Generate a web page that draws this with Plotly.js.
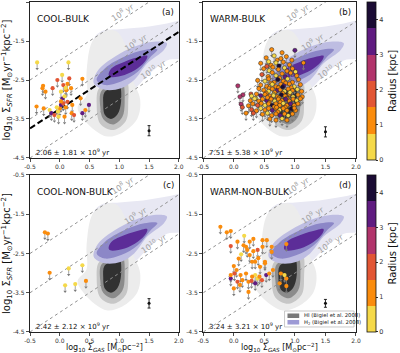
<!DOCTYPE html>
<html><head><meta charset="utf-8">
<script src="https://cdn.plot.ly/plotly-3.0.1.min.js"></script>
<style>html,body{margin:0;padding:0;background:#fff}#plot{width:400px;height:353px}</style>
</head><body><div id="plot"></div>
<script>
// ---------------- data ----------------
const panelNames = ['COOL-BULK', 'WARM-BULK', 'COOL-NON-BULK', 'WARM-NON-BULK'];
const panelTags = ['(a)', '(b)', '(c)', '(d)'];
const depletionSummary = ['2.06 ± 1.81 × 10<sup>9</sup> yr', '7.51 ± 5.38 × 10<sup>9</sup> yr',
                          '2.42 ± 2.12 × 10<sup>9</sup> yr', '3.24 ± 3.21 × 10<sup>9</sup> yr'];
const depletionTimes = [1e8, 1e9, 1e10];
const depletionLabels = ['10<sup>8</sup> yr', '10<sup>9</sup> yr', '10<sup>10</sup> yr'];
const depletionLabelX = [1.05, 1.28, 1.58];
const gasRange = [-0.5, 2.0];
const sfrRange = [-4.5, -0.5];
const xTicks = [-0.5, 0.0, 0.5, 1.0, 1.5, 2.0];
const yTicks = [-0.5, -1.5, -2.5, -3.5, -4.5];
const radiusTicks = [0, 1, 2, 3, 4];
const fitSlope = 0.99, fitIntercept = -3.245;   // panel (a) dashed fit
const repErrX = [1.5, 1.5, 1.5, 1.5];
const repErrY = [-3.8, -3.83, -3.77, -3.77];
const repErrSize = [0.13, 0.13, 0.12, 0.1];
const xTitle = 'log<sub>10</sub> Σ<sub><i>GAS</i></sub> [M<sub>⊙</sub>pc<sup>−2</sup>]';
const yTitle = 'log<sub>10</sub> Σ<sub><i>SFR</i></sub> [M<sub>⊙</sub>yr<sup>−1</sup>kpc<sup>−2</sup>]';

// Bigiel et al. 2008 density contours (outer -> inner)
const hi0X = [0.55,0.75,0.95,1.1,1.2,1.35,1.3,1.05,0.8,0.6,0.4,0.3,0.45,0.45];
const hi0Y = [-1.5,-1.25,-1.25,-1.6,-2.4,-3.0,-3.5,-3.85,-3.95,-3.8,-3.5,-3.2,-2.9,-2.3];
const hi1X = [0.66,0.9,1.12,1.15,1.11,0.9,0.68,0.62];
const hi1Y = [-2.72,-2.6,-2.52,-3.09,-3.55,-3.78,-3.62,-3.1];
const hi2X = [0.7,0.9,1.05,1.09,1.05,0.9,0.73,0.68];
const hi2Y = [-2.78,-2.64,-2.56,-3.09,-3.45,-3.64,-3.5,-3.18];
const hi3X = [0.75,0.9,1.0,1.03,0.97,0.86,0.76,0.73];
const hi3Y = [-2.82,-2.68,-2.6,-3.05,-3.38,-3.5,-3.4,-3.1];
const h20X = [0.57,0.7,1.0,1.4,1.8,2.1,2.1,1.8,1.5,1.2,0.9,0.6,0.5];
const h20Y = [-1.45,-1.25,-1.2,-1.15,-1.05,-1.0,-1.9,-2.0,-2.35,-2.8,-3.0,-2.8,-2.2];
const h21X = [0.57,0.65,0.93,1.25,1.58,1.8,1.75,1.47,1.25,1.03,0.76];
const h21Y = [-2.58,-2.24,-1.9,-1.65,-1.52,-1.56,-1.73,-2.07,-2.5,-2.71,-2.75];
const h22X = [0.62,0.76,1.09,1.42,1.64,1.53,1.31,1.03,0.76];
const h22Y = [-2.5,-2.2,-1.9,-1.73,-1.72,-1.9,-2.29,-2.54,-2.63];
const h23X = [0.82,0.87,1.09,1.36,1.47,1.45,1.31,1.09,0.85];
const h23Y = [-2.36,-2.2,-2.03,-1.9,-1.88,-1.99,-2.2,-2.37,-2.42];

// (a) COOL-BULK
const aGas = [-0.38,0.146,0.04,-0.04,0.16,0.38,0.06,-0.29,-0.12,-0.24,0.02,0.11,0.19,0.35,0.05,0.08,0.13,-0.39,-0.27,-0.17,0.0,0.02,0.06,0.21,0.49,0.38,-0.14,-0.09,-0.02,0.08,0.2,0.43,0.24,-0.03,0.02,-0.05,0.1,0.13,0.1,-0.28];
const aSfr = [-2.05,-2.05,-2.37,-2.5,-2.46,-2.47,-2.63,-2.71,-2.71,-2.8,-2.8,-2.76,-2.71,-2.97,-2.97,-2.92,-3.06,-3.18,-3.23,-3.27,-3.23,-3.14,-3.1,-3.14,-3.14,-3.35,-3.35,-3.4,-3.44,-3.44,-3.35,-3.27,-3.4,-3.31,-3.05,-3.2,-3.2,-2.6,-2.7,-2.65];
const aRad = [0.4,0.4,0.4,1.9,1.9,1.1,1.9,1.1,1.9,1.1,0.4,1.1,1.1,1.1,3.4,0.4,1.9,1.1,1.1,0.4,1.1,3.4,1.9,1.1,3.4,3.4,3.4,1.9,0.4,1.1,1.1,1.1,1.9,0.4,1.1,0.4,1.1,1.1,0.4,1.1];

// (b) WARM-BULK
const bGas = [0.62,0.79,1.0,1.14,0.53,0.66,0.71,0.86,0.57,0.77,0.44,0.61,0.69,0.81,0.91,0.95,0.74,0.49,0.58,0.64,0.73,0.83,0.87,0.96,1.01,0.54,
  0.46,0.56,0.63,0.69,0.79,0.84,0.93,1.03,0.75,0.39,0.51,0.57,0.66,0.72,0.81,0.88,0.96,1.06,0.61,0.85,0.066,
  0.44,0.54,0.63,0.69,0.77,0.82,0.91,0.99,1.09,0.73,0.58,0.94,0.28,0.41,0.49,0.57,0.63,0.71,0.76,0.83,0.89,0.96,1.04,1.11,0.67,0.8,0.53,
  0.15,0.29,0.37,0.44,0.51,0.59,0.65,0.71,0.78,0.84,0.91,0.97,1.05,1.12,0.74,0.87,0.62,0.36,
  0.1,0.27,0.34,0.41,0.47,0.54,0.61,0.67,0.73,0.79,0.85,0.91,0.97,1.03,1.09,0.76,0.58,
  0.12,0.24,0.31,0.39,0.45,0.51,0.57,0.63,0.69,0.75,0.81,0.87,0.93,0.99,1.05,0.66,0.84,0.14,
  0.29,0.37,0.44,0.51,0.57,0.63,0.69,0.75,0.81,0.87,0.94,1.01,0.72,0.2,0.32,
  0.47,0.55,0.62,0.69,0.76,0.83,0.89,0.96,0.59,0.69,0.79,0.87,0.65,0.8,0.7,0.92,0.55,0.99];
const bSfr = [-1.72,-1.8,-1.74,-2.06,-1.93,-1.88,-1.99,-1.9,-2.03,-1.95,-2.07,-2.12,-2.06,-2.04,-2.11,-1.99,-2.14,-2.21,-2.26,-2.17,-2.23,-2.19,-2.27,-2.21,-2.29,-2.15,
  -2.36,-2.41,-2.31,-2.39,-2.34,-2.42,-2.32,-2.39,-2.45,-2.51,-2.53,-2.47,-2.56,-2.49,-2.53,-2.47,-2.56,-2.49,-2.58,-2.58,-2.65,
  -2.63,-2.66,-2.61,-2.67,-2.61,-2.65,-2.6,-2.67,-2.62,-2.7,-2.71,-2.7,-2.86,-2.72,-2.76,-2.79,-2.73,-2.77,-2.75,-2.79,-2.73,-2.77,-2.74,-2.79,-2.82,-2.84,-2.84,
  -2.88,-2.91,-2.86,-2.9,-2.87,-2.91,-2.87,-2.93,-2.88,-2.91,-2.86,-2.93,-2.88,-2.93,-2.96,-2.97,-2.96,-2.97,
  -2.93,-3.03,-2.98,-3.04,-2.99,-3.03,-2.99,-3.04,-2.99,-3.03,-2.99,-3.04,-2.99,-3.03,-2.98,-3.07,-3.08,
  -3.12,-3.16,-3.11,-3.15,-3.1,-3.15,-3.11,-3.15,-3.11,-3.15,-3.1,-3.15,-3.11,-3.15,-3.11,-3.19,-3.2,-3.2,
  -3.26,-3.29,-3.23,-3.27,-3.23,-3.28,-3.23,-3.27,-3.23,-3.28,-3.24,-3.28,-3.32,-3.35,-3.35,
  -3.38,-3.35,-3.41,-3.37,-3.41,-3.37,-3.41,-3.37,-3.5,-3.53,-3.49,-3.53,-2.9,-2.68,-3.2,-2.82,-2.95,-3.22];
const bRad = [1.1,1.1,3.4,1.1,1.1,0.4,1.1,1.1,0.4,1.1,1.1,1.1,0.4,1.1,1.1,1.1,4.1,1.1,0.4,1.1,1.1,0.4,1.1,1.1,0.4,1.9,
  1.9,1.1,1.1,0.4,1.1,3.4,1.1,1.1,1.1,1.1,0.4,1.1,1.1,4.1,1.1,0.4,1.1,1.1,1.1,1.1,2.6,
  1.1,1.1,0.4,1.1,1.1,3.4,1.1,0.4,1.1,1.1,1.1,1.1,1.9,1.1,1.1,0.4,1.1,3.4,1.1,0.4,1.1,1.1,0.4,1.1,1.1,1.1,1.1,
  2.6,0.4,1.1,3.4,1.1,1.1,0.4,1.1,4.1,1.1,1.1,0.4,1.1,1.1,1.1,1.1,1.9,0.4,
  2.6,1.1,0.4,1.1,1.1,3.4,1.1,0.4,1.1,1.1,3.4,1.1,1.1,0.4,1.1,1.1,1.1,
  2.6,1.1,1.1,1.9,1.1,0.4,1.1,4.1,1.1,1.1,0.4,1.1,3.4,1.1,1.1,1.1,1.1,1.9,
  1.9,1.1,0.4,1.1,1.1,3.4,1.1,0.4,1.1,1.1,4.1,1.1,1.1,1.1,1.9,
  1.1,0.4,1.1,1.1,3.4,1.1,0.4,1.1,1.1,1.1,0.4,1.1,0.4,4.1,1.1,0.4,1.1,1.1];

// (c) COOL-NON-BULK
const cGas = [-0.25,-0.2,-0.17,0.15,0.38,0.09,0.26,0.44];
const cSfr = [-1.96,-1.99,-2.99,-2.88,-2.8,-3.31,-3.28,-3.2];
const cRad = [1.1,1.1,1.1,0.4,0.4,0.4,0.4,1.1];

// (d) WARM-NON-BULK
const dGas = [-0.22,-0.115,-0.05,0.17,0.32,0.47,0.54,-0.05,0.26,0.2,0.12,0.32,0.39,0.47,0.62,0.62,0.26,0.3,0.35,0.51,0.0,0.045,0.01,0.11,0.2,0.35,0.39,0.42,0.53,0.46,0.58,0.64,-0.05,0.06,0.14,0.24,0.35,0.24,0.0,0.86,0.86,0.75,0.86,0.77,0.83,0.08,0.22,0.43,0.06,0.16,0.51,-0.05,0.3,0.29,0.1,0.4];
const dSfr = [-1.82,-1.96,-1.93,-2.05,-2.13,-2.16,-2.16,-2.31,-2.2,-2.33,-2.52,-2.44,-2.41,-2.33,-2.33,-2.46,-2.54,-2.71,-2.71,-2.75,-2.82,-2.92,-3.01,-3.05,-3.01,-3.05,-3.14,-3.09,-3.05,-3.18,-3.01,-2.92,-3.14,-3.22,-3.18,-3.22,-3.26,-3.48,-3.39,-2.26,-3.14,-3.26,-3.33,-3.01,-3.05,-2.63,-2.41,-2.84,-2.2,-2.29,-2.71,-3.05,-3.09,-3.2,-3.3,-2.62];
const dRad = [1.1,1.1,1.1,0.4,1.1,1.1,1.1,1.9,1.1,1.1,0.4,1.1,1.9,1.1,1.1,1.1,1.1,1.1,1.1,1.1,1.1,1.1,1.9,1.1,1.1,0.4,0.4,1.1,3.4,1.9,1.1,1.1,3.4,1.9,1.1,1.1,3.4,1.1,1.1,1.1,1.1,1.1,1.1,1.1,0.4,1.1,1.1,1.1,1.1,1.1,1.1,1.1,1.1,1.9,1.1,1.1];

// ---------------- styling ----------------
const FONT = 'DejaVu Sans, Arial, sans-serif';
const radiusColors = ['#f5d949', '#fa8c0d', '#e25634', '#b1346b', '#5f1b80', '#1b0c34'];
const radiusScale = [];
radiusColors.forEach((c, i) => { radiusScale.push([i / 6, c]); radiusScale.push([(i + 1) / 6, c]); });

const contourLevels = [
  [h20X, h20Y, '#e8e8f3'],
  [hi0X, hi0Y, '#ececec'],
  [hi1X, hi1Y, '#c6c6c6'],
  [hi2X, hi2Y, '#8b8b8b'],
  [hi3X, hi3Y, '#313131'],
  [h21X, h21Y, '#bebde2'],
  [h22X, h22Y, '#8c87c7'],
  [h23X, h23Y, '#5c2d98']
];

const panels = [
  {xa: 'x',  ya: 'y',  gas: aGas, sfr: aSfr, rad: aRad, edge: false, cb: null},
  {xa: 'x2', ya: 'y2', gas: bGas, sfr: bSfr, rad: bRad, edge: true,  cb: {y: 0.7606, len: 0.479}},
  {xa: 'x3', ya: 'y3', gas: cGas, sfr: cSfr, rad: cRad, edge: false, cb: null},
  {xa: 'x4', ya: 'y4', gas: dGas, sfr: dSfr, rad: dRad, edge: false, cb: {y: 0.2379, len: 0.476}}
];

const traces = [];
const annotations = [];

panels.forEach((p, i) => {
  const ax = {xaxis: p.xa, yaxis: p.ya, hoverinfo: 'skip', showlegend: false};
  contourLevels.forEach(([cx, cy, col]) => {
    traces.push(Object.assign({type: 'scatter', mode: 'lines', x: cx.concat([cx[0]]), y: cy.concat([cy[0]]),
      fill: 'toself', fillcolor: col, line: {width: 0, shape: 'spline', smoothing: 1, color: col}}, ax));
  });
  depletionTimes.forEach((t, k) => {
    const off = 6 - Math.log10(t);
    traces.push(Object.assign({type: 'scatter', mode: 'lines', x: gasRange, y: gasRange.map(g => g + off),
      line: {color: '#909090', width: 1, dash: 'dot'}}, ax));
    const lx = depletionLabelX[k];
    annotations.push({xref: p.xa, yref: p.ya, x: lx, y: lx + off + 0.2, text: depletionLabels[k], showarrow: false,
      textangle: -32.5, font: {family: FONT, size: 8, color: '#a2a2a2'}});
  });
  if (i === 0) {
    traces.push(Object.assign({type: 'scatter', mode: 'lines', x: gasRange, y: gasRange.map(g => fitIntercept + fitSlope * g),
      line: {color: '#000', width: 2, dash: '6px,3px'}}, ax));
  }
  traces.push(Object.assign({type: 'scatter', mode: 'markers', x: p.gas, y: p.sfr.map(v => v - 0.16),
    marker: {symbol: 'triangle-down', size: 3, color: '#7a7a7a'}}, ax));
  const pt = Object.assign({type: 'scatter', mode: 'markers', x: p.gas, y: p.sfr,
    error_y: {type: 'data', symmetric: false, array: p.gas.map(() => 0), arrayminus: p.gas.map(() => 0.14),
      color: '#8a8a8a', thickness: 0.8, width: 0},
    marker: {size: 4.2, color: p.rad, colorscale: radiusScale, cmin: 0, cmax: 4.5,
      line: {width: p.edge ? 0.5 : 0, color: '#222'}, showscale: !!p.cb}}, ax);
  if (p.cb) {
    pt.marker.colorbar = {x: 1.033, xanchor: 'left', y: p.cb.y, yanchor: 'middle', len: p.cb.len, lenmode: 'fraction',
      thickness: 9, xpad: 0, ypad: 0, outlinecolor: '#111', outlinewidth: 0.8,
      tickvals: radiusTicks, ticks: 'outside', ticklen: 2, tickcolor: '#333',
      tickfont: {family: FONT, size: 6.5, color: '#333'},
      title: {text: 'Radius [kpc]', side: 'right', font: {family: FONT, size: 10, color: '#111'}}};
  }
  traces.push(pt);
  traces.push(Object.assign({type: 'scatter', mode: 'markers', x: [repErrX[i]], y: [repErrY[i]],
    marker: {size: 3, color: '#111'},
    error_y: {type: 'data', array: [repErrSize[i]], color: '#111', thickness: 0.9, width: 1.5}}, ax));
  annotations.push({xref: p.xa, yref: p.ya, x: -0.42, y: -0.93, xanchor: 'left', text: panelNames[i], showarrow: false,
    font: {family: FONT, size: 9, color: '#111'}});
  annotations.push({xref: p.xa, yref: p.ya, x: 1.82, y: -0.75, text: panelTags[i], showarrow: false,
    font: {family: FONT, size: 8.5, color: '#111'}});
  annotations.push({xref: p.xa, yref: p.ya, x: -0.44, y: -4.35, xanchor: 'left', text: depletionSummary[i], showarrow: false,
    font: {family: FONT, size: 7, color: '#111'}});
});

// x-axis titles under the bottom panels
[0.2283, 0.7658].forEach(cx => {
  annotations.push({xref: 'paper', yref: 'paper', x: cx, y: -0.046, xanchor: 'center', yanchor: 'middle', showarrow: false,
    text: xTitle, font: {family: FONT, size: 8, color: '#111'}});
});

// manual legend box in panel (d)
const legendShapes = [
  {type: 'rect', xref: 'paper', yref: 'paper', x0: 0.7808, x1: 0.994, y0: 0.0152, y1: 0.0636,
    line: {color: '#bbb', width: 0.8}, fillcolor: 'rgba(255,255,255,0.85)'},
  {type: 'rect', xref: 'paper', yref: 'paper', x0: 0.7898, x1: 0.8258, y0: 0.0424, y1: 0.0561, line: {width: 0}, fillcolor: '#7a7a7a'},
  {type: 'rect', xref: 'paper', yref: 'paper', x0: 0.7898, x1: 0.8258, y0: 0.0227, y1: 0.0364, line: {width: 0}, fillcolor: '#9d9ad5'}
];
annotations.push({xref: 'paper', yref: 'paper', x: 0.8348, y: 0.0494, xanchor: 'left', yanchor: 'middle', showarrow: false,
  text: 'HI (Bigiel et al. 2008)', font: {family: FONT, size: 5.3, color: '#222'}});
annotations.push({xref: 'paper', yref: 'paper', x: 0.8348, y: 0.0297, xanchor: 'left', yanchor: 'middle', showarrow: false,
  text: 'H<sub>2</sub> (Bigiel et al. 2008)', font: {family: FONT, size: 5.3, color: '#222'}});

function xAxis(domain, anchor) {
  return {domain: domain, anchor: anchor, range: gasRange, tickvals: xTicks, ticktext: xTicks.map(v => v.toFixed(1)),
    showline: true, mirror: true, linecolor: '#222', linewidth: 1.2, ticks: 'outside', ticklen: 3, tickwidth: 0.8,
    tickcolor: '#222', tickfont: {family: FONT, size: 6, color: '#333'}, showgrid: false, zeroline: false};
}
function yAxis(domain, anchor, title) {
  const a = {domain: domain, anchor: anchor, range: sfrRange, tickvals: yTicks, ticktext: yTicks.map(v => v.toFixed(1)),
    showline: true, mirror: true, linecolor: '#222', linewidth: 1.2, ticks: 'outside', ticklen: 3, tickwidth: 0.8,
    tickcolor: '#222', tickfont: {family: FONT, size: 6, color: '#333'}, showgrid: false, zeroline: false};
  if (title) a.title = {text: yTitle, font: {family: FONT, size: 10, color: '#111'}, standoff: 3};
  return a;
}
const xL = [0, 0.4565], xR = [0.5315, 1.0], yT = [0.5273, 1.0], yB = [0, 0.4758];

const layout = {
  width: 400, height: 353, margin: {l: 30, r: 37, t: 2, b: 21},
  paper_bgcolor: '#fff', plot_bgcolor: '#fff', showlegend: false,
  font: {family: FONT},
  xaxis: xAxis(xL, 'y'), yaxis: yAxis(yT, 'x', true),
  xaxis2: xAxis(xR, 'y2'), yaxis2: yAxis(yT, 'x2', false),
  xaxis3: xAxis(xL, 'y3'), yaxis3: yAxis(yB, 'x3', true),
  xaxis4: xAxis(xR, 'y4'), yaxis4: yAxis(yB, 'x4', false),
  annotations: annotations, shapes: legendShapes
};
Plotly.newPlot('plot', traces, layout, {staticPlot: true, displayModeBar: false});
</script></body></html>
